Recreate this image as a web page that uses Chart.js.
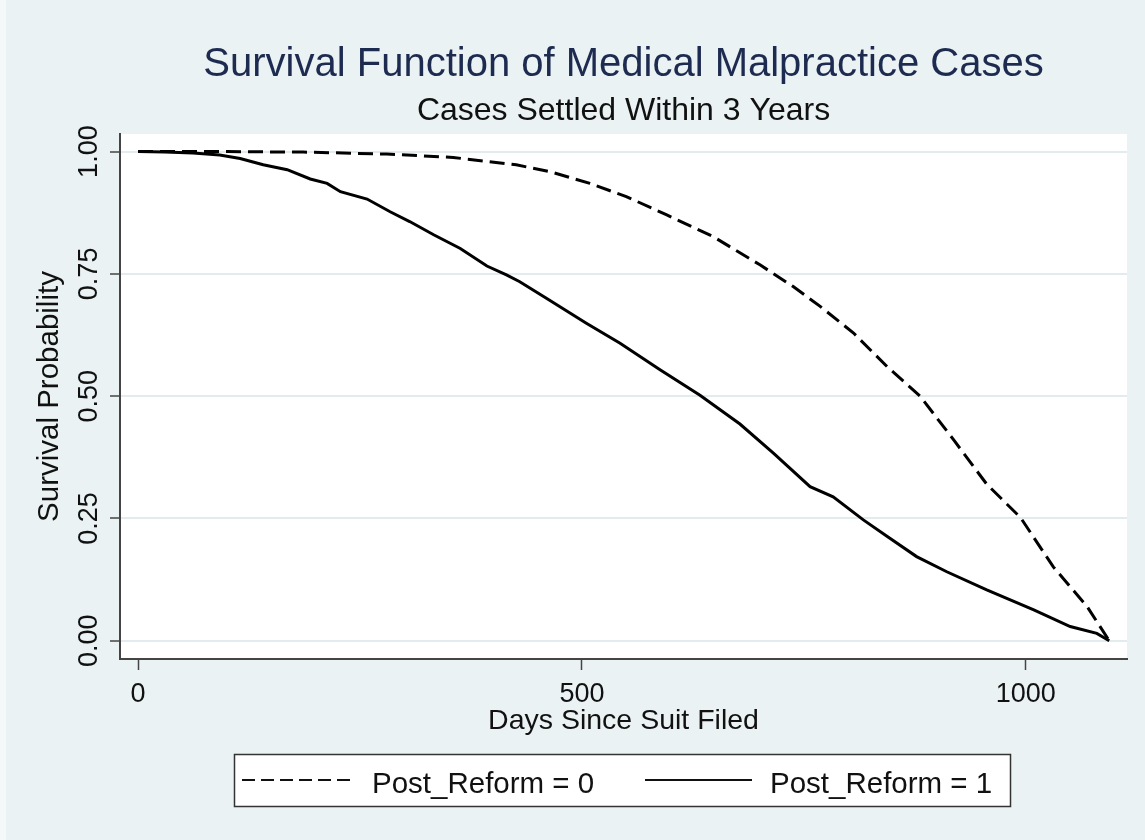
<!DOCTYPE html>
<html>
<head>
<meta charset="utf-8">
<title>Survival Function of Medical Malpractice Cases</title>
<script src="https://cdn.jsdelivr.net/npm/chart.js@4.4.1/dist/chart.umd.min.js"></script>
<style>
  html, body { margin: 0; padding: 0; background: #eaf2f3; }
  #wrap { width: 1145px; height: 840px; }
</style>
</head>
<body>
<div id="wrap"><canvas id="survivalChart" width="1145" height="840"></canvas></div>
<script>
// Kaplan-Meier estimates (days since suit filed, survival probability)
const reform0Days = [0, 100, 186, 280, 355, 426, 464, 509, 550, 595, 648, 701, 738, 768, 806, 844, 881, 919, 956, 994, 1031, 1069, 1094];
const reform0Survival = [1.0, 1.0, 0.999, 0.995, 0.988, 0.973, 0.959, 0.935, 0.908, 0.871, 0.826, 0.768, 0.724, 0.684, 0.629, 0.560, 0.500, 0.410, 0.320, 0.252, 0.151, 0.070, 0.0];

const reform1Days = [0, 30, 62, 92, 115, 141, 168, 194, 213, 228, 258, 284, 306, 333, 363, 393, 415, 430, 460, 505, 543, 588, 633, 678, 716, 757, 783, 817, 844, 877, 911, 956, 1009, 1050, 1080, 1094];
const reform1Survival = [1.0, 0.999, 0.997, 0.993, 0.986, 0.973, 0.963, 0.944, 0.935, 0.918, 0.903, 0.877, 0.857, 0.830, 0.802, 0.766, 0.748, 0.734, 0.700, 0.649, 0.608, 0.554, 0.502, 0.443, 0.383, 0.315, 0.294, 0.247, 0.213, 0.172, 0.141, 0.104, 0.063, 0.029, 0.015, 0.0];

const seriesLabels = ["Post_Reform = 0", "Post_Reform = 1"];
const xTickValues = [0, 500, 1000];
const yTickValues = [0, 0.25, 0.5, 0.75, 1];

const FONT = '"Liberation Sans", Arial, sans-serif';
const BG = "#eaf2f3";
const GRID = "#e2ecee";
const AXIS = "#444444";
const INK = "#111111";
const DASH = [15, 7];

function toPoints(days, values) {
  return days.map((d, i) => ({ x: d, y: values[i] }));
}

// Stata-like decoration: backgrounds, titles, rotated y labels and the boxed legend
const stataLook = {
  id: "stataLook",
  beforeDraw(chart) {
    const { ctx, chartArea: a, width, height } = chart;
    ctx.save();
    ctx.fillStyle = BG;
    ctx.fillRect(0, 0, width, height);
    ctx.fillStyle = "#f4f8f9";
    ctx.fillRect(0, 0, 6, height);
    ctx.fillStyle = "#ffffff";
    ctx.fillRect(a.left, a.top, a.right - a.left, a.bottom - a.top);
    ctx.restore();
  },
  afterDraw(chart) {
    const { ctx, chartArea: a } = chart;
    const yScale = chart.scales.y;
    const midX = (a.left + a.right) / 2;
    ctx.save();

    ctx.textAlign = "center";
    ctx.textBaseline = "alphabetic";
    ctx.fillStyle = "#1e2b50";
    ctx.font = `40px ${FONT}`;
    ctx.fillText("Survival Function of Medical Malpractice Cases", midX, 76);
    ctx.fillStyle = INK;
    ctx.font = `32px ${FONT}`;
    ctx.fillText("Cases Settled Within 3 Years", midX, 120);

    ctx.font = `28.5px ${FONT}`;
    ctx.fillText("Days Since Suit Filed", midX, 729);

    // y tick labels, vertical like in Stata
    ctx.font = `27px ${FONT}`;
    yTickValues.forEach((v) => {
      ctx.save();
      ctx.translate(96.5, yScale.getPixelForValue(v));
      ctx.rotate(-Math.PI / 2);
      ctx.fillText(v.toFixed(2), 0, 0);
      ctx.restore();
    });

    ctx.save();
    ctx.font = `29.5px ${FONT}`;
    ctx.translate(57.5, (a.top + a.bottom) / 2);
    ctx.rotate(-Math.PI / 2);
    ctx.fillText("Survival Probability", 0, 0);
    ctx.restore();

    // legend
    ctx.fillStyle = "#ffffff";
    ctx.fillRect(234.5, 754.5, 776, 52);
    ctx.strokeStyle = "#333333";
    ctx.lineWidth = 1.5;
    ctx.strokeRect(234.5, 754.5, 776, 52);

    ctx.strokeStyle = INK;
    ctx.lineWidth = 2;
    ctx.setLineDash([13, 6]);
    ctx.beginPath();
    ctx.moveTo(242, 780);
    ctx.lineTo(356, 780);
    ctx.stroke();
    ctx.setLineDash([]);
    ctx.beginPath();
    ctx.moveTo(645, 780);
    ctx.lineTo(752, 780);
    ctx.stroke();

    ctx.fillStyle = INK;
    ctx.textAlign = "left";
    ctx.font = `29.5px ${FONT}`;
    ctx.fillText(seriesLabels[0], 372, 793);
    ctx.fillText(seriesLabels[1], 770, 793);

    ctx.restore();
  }
};

const chart = new Chart(document.querySelector("#survivalChart"), {
  type: "line",
  data: {
    datasets: [
      {
        label: seriesLabels[0],
        data: toPoints(reform0Days, reform0Survival),
        borderColor: "#000000",
        borderWidth: 3,
        borderDash: DASH,
        pointRadius: 0,
        tension: 0,
        fill: false
      },
      {
        label: seriesLabels[1],
        data: toPoints(reform1Days, reform1Survival),
        borderColor: "#000000",
        borderWidth: 3,
        pointRadius: 0,
        tension: 0,
        fill: false
      }
    ]
  },
  options: {
    responsive: false,
    animation: false,
    devicePixelRatio: 1,
    layout: { padding: { top: 134, right: 18, bottom: 0, left: 0 } },
    plugins: {
      legend: { display: false },
      title: { display: false },
      tooltip: { enabled: false }
    },
    scales: {
      x: {
        type: "linear",
        min: -20.3,
        max: 1114,
        afterBuildTicks: (scale) => {
          scale.ticks = xTickValues.map((value) => ({ value }));
        },
        afterFit: (scale) => {
          scale.height = 181;
        },
        grid: {
          drawOnChartArea: false,
          drawTicks: true,
          tickLength: 11,
          tickColor: AXIS,
          tickWidth: 1.5
        },
        border: { display: true, color: AXIS, width: 2 },
        ticks: {
          padding: 8,
          color: INK,
          font: { family: FONT, size: 27 },
          maxRotation: 0,
          callback: (value) => String(value)
        }
      },
      y: {
        type: "linear",
        min: -0.0374,
        max: 1.036,
        afterBuildTicks: (scale) => {
          scale.ticks = yTickValues.map((value) => ({ value }));
        },
        afterFit: (scale) => {
          scale.width = 120;
        },
        grid: {
          color: GRID,
          lineWidth: 2,
          drawTicks: true,
          tickLength: 10,
          tickColor: AXIS,
          tickWidth: 1.5
        },
        border: { display: true, color: AXIS, width: 2 },
        ticks: { display: false }
      }
    }
  },
  plugins: [stataLook]
});
</script>
</body>
</html>
